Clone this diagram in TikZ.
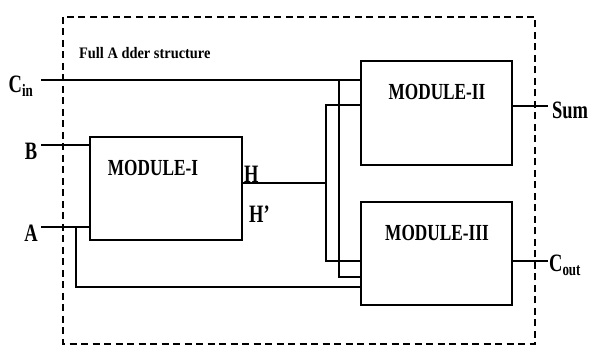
\documentclass[tikz,border=0pt]{standalone}
\usepackage{fontspec}
\setmainfont{Liberation Serif}
\begin{document}
\begin{tikzpicture}[x=1pt,y=-1pt,
  wire/.style={line width=1.4pt},
  module/.style={draw,line width=1.4pt,minimum width=151pt,minimum height=103pt,inner sep=0pt},
  modtext/.style={font=\fontsize{23}{23}\selectfont\bfseries,xscale=0.75,inner sep=0pt},
  io/.style={font=\fontsize{25}{25}\selectfont\bfseries,xscale=0.74,inner sep=0pt},
  frame/.style={line width=1.4pt,dash pattern=on 7pt off 4.5pt}]
\useasboundingbox (0,0) rectangle (590,347);
\draw[frame] (63,17) rectangle (535,344);
\node[font=\fontsize{16}{16}\selectfont\bfseries,xscale=0.9,anchor=west,inner sep=0pt] (title) at (79,53) {Full A dder structure};
% modules
\node[module,minimum width=152pt] (m1) at (166,188.5) {};
\node[module,minimum height=104pt] (m2) at (436.5,113) {};
\node[module] (m3) at (436.5,253.5) {};
\node[modtext] (t1) at (153,168) {MODULE-I};
\node[modtext] (t2) at (437,92) {MODULE-II};
\node[modtext] (t3) at (437,233) {MODULE-III};
% io labels
\node[io] (lcin) at (21,86) {C\textsubscript{in}};
\node[io] (lb) at (31,151) {B};
\node[io] (la) at (31,233) {A};
\node[io] (lsum) at (570,110) {Sum};
\node[io] (lcout) at (565,265) {C\textsubscript{out}};
\node[io,anchor=west] (lh) at (244,174) {H};
\node[io,anchor=west] (lhp) at (249,214) {H'};
% coordinates
\coordinate (cin) at (41,80);
\coordinate (b) at (41,145);
\coordinate (a) at (41,227);
\coordinate (ja) at (76,227);
\coordinate (jc) at (339,80);
\coordinate (hx) at (326,183);
\coordinate (ha) at (326,105);
\coordinate (hb) at (326,261);
\coordinate (sumend) at (548,106);
\coordinate (coutend) at (548,261);
% wires
\draw[wire] (cin) -- (cin -| m2.west);
\draw[wire] (b) -- (b -| m1.west);
\draw[wire] (a) -- (a -| m1.west);
\draw[wire] (ja) |- (m3.west |- 0,287);
\draw[wire] (jc) |- (m3.west |- 0,277);
\draw[wire] (hx -| m1.east) -- (hx);
\draw[wire] (ha -| m2.west) -- (ha) -- (hb) -- (hb -| m3.west);
\draw[wire] (sumend -| m2.east) -- (sumend);
\draw[wire] (coutend -| m3.east) -- (coutend);
\end{tikzpicture}
\end{document}
